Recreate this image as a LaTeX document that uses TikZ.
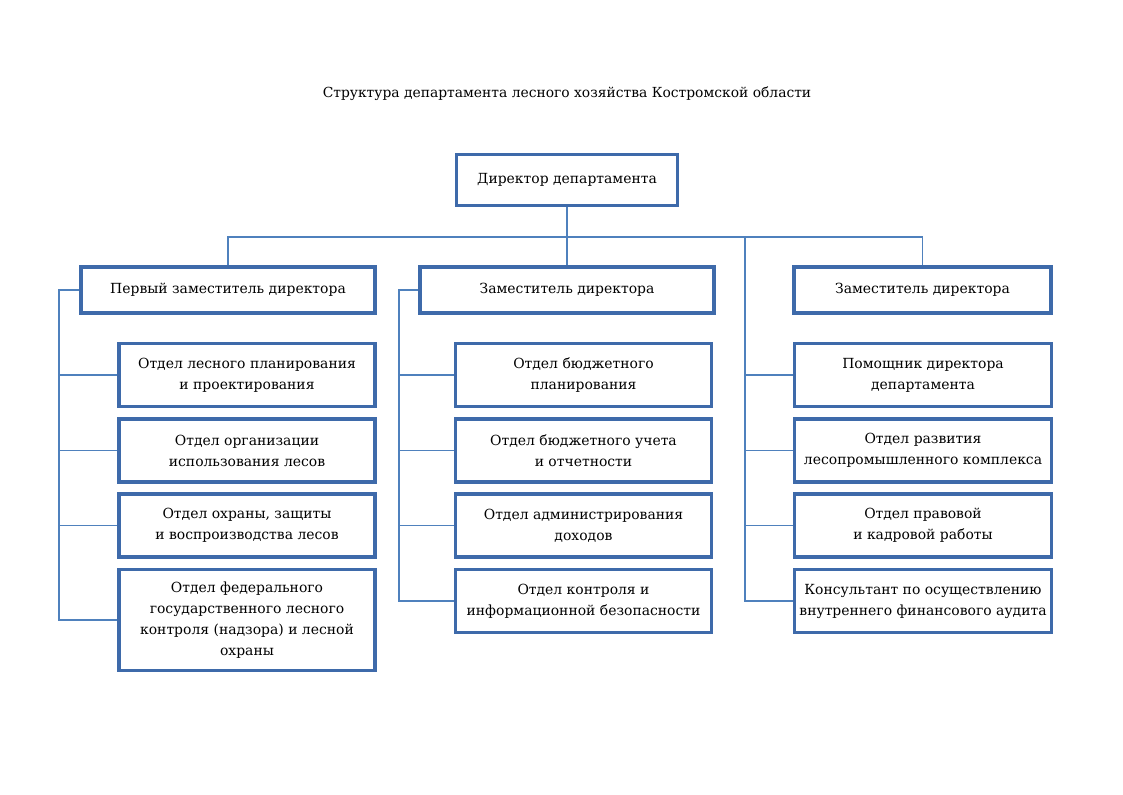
\documentclass[tikz,border=0pt]{standalone}
\usepackage{fontspec}
\setmainfont{DejaVu Serif}
\definecolor{boxblue}{RGB}{62,106,170}
\definecolor{lineblue}{RGB}{79,129,189}
\tikzset{
  orgbox/.style={draw=boxblue, line width=2.3pt, fill=white, align=center, inner sep=2pt,
    font=\fontsize{10.45}{15.75}\selectfont, text=black},
  conn/.style={draw=lineblue, line width=1.1pt}
}
\begin{document}
\begin{tikzpicture}[x=0.75pt,y=-0.75pt]
\useasboundingbox (0,0) rectangle (1123,794);
\node[font=\fontsize{10.4}{12}\selectfont] (title) at (567,94) {Структура департамента лесного хозяйства Костромской области};
% top
\node[orgbox, minimum width=221*0.75pt, minimum height=51*0.75pt] (dir) at (567,180) {Директор департамента};
\node[orgbox, minimum width=294*0.75pt, minimum height=46*0.75pt] (L0) at (228,290) {Первый заместитель директора};
\node[orgbox, minimum width=294*0.75pt, minimum height=46*0.75pt] (M0) at (567,290) {Заместитель директора};
\node[orgbox, minimum width=257*0.75pt, minimum height=46*0.75pt] (R0) at (922.5,290) {Заместитель директора};
% left column
\node[orgbox, minimum width=256*0.75pt, minimum height=63*0.75pt] (L1) at (247,375) {Отдел лесного планирования\\и проектирования};
\node[orgbox, minimum width=256*0.75pt, minimum height=63*0.75pt] (L2) at (247,450.5) {Отдел организации\\использования лесов};
\node[orgbox, minimum width=256*0.75pt, minimum height=63*0.75pt] (L3) at (247,525.5) {Отдел охраны, защиты\\и воспроизводства лесов};
\node[orgbox, minimum width=256*0.75pt, minimum height=101*0.75pt] (L4) at (247,620) {Отдел федерального\\государственного лесного\\контроля (надзора) и лесной\\охраны};
% middle column
\node[orgbox, minimum width=256*0.75pt, minimum height=63*0.75pt] (M1) at (583.5,375) {Отдел бюджетного\\планирования};
\node[orgbox, minimum width=256*0.75pt, minimum height=63*0.75pt] (M2) at (583.5,450.5) {Отдел бюджетного учета\\и отчетности};
\node[orgbox, minimum width=256*0.75pt, minimum height=63*0.75pt] (M3) at (583.5,525.5) {Отдел администрирования\\доходов};
\node[orgbox, minimum width=256*0.75pt, minimum height=63*0.75pt] (M4) at (583.5,601) {Отдел контроля и\\информационной безопасности};
% right column
\node[orgbox, minimum width=257*0.75pt, minimum height=63*0.75pt] (R1) at (923,375) {Помощник директора\\департамента};
\node[orgbox, minimum width=257*0.75pt, minimum height=63*0.75pt] (R2) at (923,450.5) {Отдел развития\\лесопромышленного комплекса};
\node[orgbox, minimum width=257*0.75pt, minimum height=63*0.75pt] (R3) at (923,525.5) {Отдел правовой\\и кадровой работы};
\node[orgbox, minimum width=257*0.75pt, minimum height=63*0.75pt] (R4) at (923,601) {Консультант по осуществлению\\внутреннего финансового аудита};
% connector junctions
\coordinate (bus) at (567,237);
\coordinate (rb) at (745,237);
\coordinate (lb) at (59,290);
\coordinate (mb) at (399,290);
\draw[conn] (dir.south) -- (M0.north);
\draw[conn] (L0.north) |- (bus) -| (R0.north);
\draw[conn] (rb) |- (R4.west);
\draw[conn] (rb |- R1.west) -- (R1.west);
\draw[conn] (rb |- R2.west) -- (R2.west);
\draw[conn] (rb |- R3.west) -- (R3.west);
\draw[conn] (L0.west) -- (lb) |- (L4.west);
\draw[conn] (lb |- L1.west) -- (L1.west);
\draw[conn] (lb |- L2.west) -- (L2.west);
\draw[conn] (lb |- L3.west) -- (L3.west);
\draw[conn] (M0.west) -- (mb) |- (M4.west);
\draw[conn] (mb |- M1.west) -- (M1.west);
\draw[conn] (mb |- M2.west) -- (M2.west);
\draw[conn] (mb |- M3.west) -- (M3.west);
\end{tikzpicture}
\end{document}
